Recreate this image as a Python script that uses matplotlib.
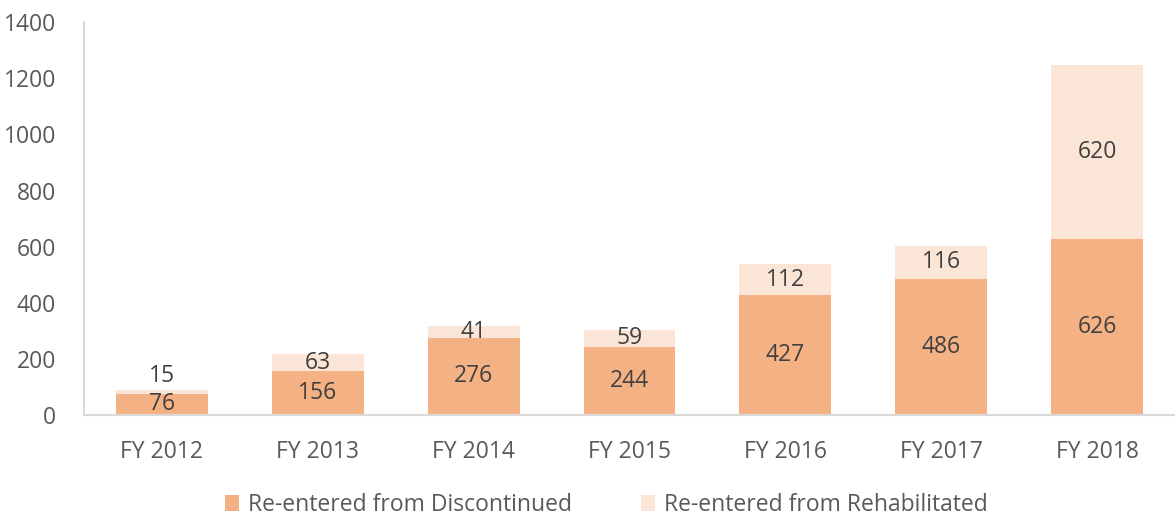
import matplotlib

matplotlib.use("Agg")

import matplotlib.pyplot as plt  # noqa: E402
import numpy as np  # noqa: E402

plt.rcParams["font.family"] = ["Open Sans", "DejaVu Sans"]

years = ["FY 2012", "FY 2013", "FY 2014", "FY 2015", "FY 2016", "FY 2017", "FY 2018"]
discontinued = [76, 156, 276, 244, 427, 486, 626]
rehabilitated = [15, 63, 41, 59, 112, 116, 620]
y_ticks = [0, 200, 400, 600, 800, 1000, 1200, 1400]

DARK = "#F4B183"
LIGHT = "#FBE5D6"
TICK_COLOR = "#595959"
LABEL_COLOR = "#404040"
FS = 16.5

fig = plt.figure(figsize=(11.75, 5.17), dpi=100)
ax = fig.add_axes([0.0715, 0.197, 0.9285, 0.76])

x = np.arange(len(years))
w = 0.59
ax.bar(x, discontinued, w, color=DARK, label="Re-entered from Discontinued")
ax.bar(x, rehabilitated, w, bottom=discontinued, color=LIGHT,
       label="Re-entered from Rehabilitated")

for i, (d, r) in enumerate(zip(discontinued, rehabilitated)):
    ax.text(i, d / 2, str(d), ha="center", va="center", fontsize=FS, color=LABEL_COLOR)
    if r < 30:
        # segment too thin: put label above the bar
        ax.text(i, d + r + 4, str(r), ha="center", va="bottom", fontsize=FS,
                color=LABEL_COLOR)
    else:
        ax.text(i, d + r / 2, str(r), ha="center", va="center", fontsize=FS,
                color=LABEL_COLOR)

ax.set_xlim(-0.5, len(years) - 0.5)
ax.set_ylim(0, 1400)
ax.set_yticks(y_ticks)
ax.set_xticks(x)
ax.set_xticklabels(years)
ax.tick_params(axis="both", length=0, labelsize=FS, colors=TICK_COLOR)
ax.tick_params(axis="x", pad=18)
ax.tick_params(axis="y", pad=20)

for side in ("top", "right"):
    ax.spines[side].set_visible(False)
for side in ("left", "bottom"):
    ax.spines[side].set_color("#D9D9D9")
    ax.spines[side].set_linewidth(1.5)

fig.legend(loc="lower center", bbox_to_anchor=(0.516, 0.0), ncol=2, frameon=False,
           fontsize=FS, labelcolor=TICK_COLOR, handlelength=0.6, handleheight=0.7,
           handletextpad=0.4, columnspacing=3.0, borderaxespad=0.0, borderpad=0.0)

fig.savefig("out.png", dpi=100)
